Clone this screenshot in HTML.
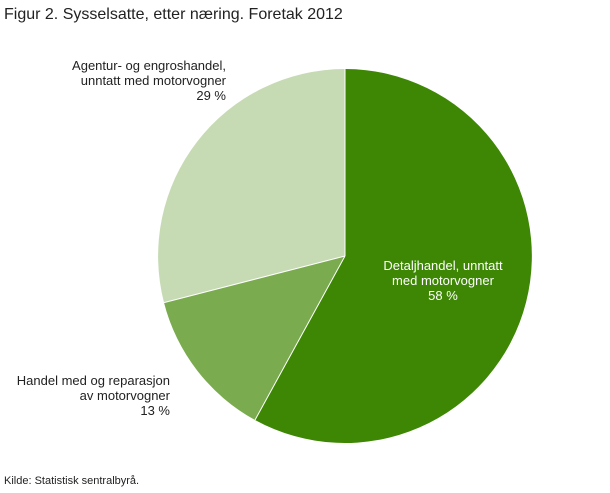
<!DOCTYPE html>
<html><head><meta charset="utf-8"><style>
body{margin:0;background:#fff;width:610px;height:488px;overflow:hidden;font-family:"Liberation Sans",sans-serif}
</style></head><body>
<svg width="610" height="488" xmlns="http://www.w3.org/2000/svg" font-family="Liberation Sans, sans-serif">
<text x="4" y="19" font-size="16" fill="#222">Figur 2. Sysselsatte, etter næring. Foretak 2012</text>
<path d="M345,256 L345,69 A187,187 0 1 1 255,420 Z" fill="#3d8704"/>
<path d="M345,256 L255,420 A187,187 0 0 1 164,302.6 Z" fill="#7aab4e"/>
<path d="M345,256 L164,302.6 A187,187 0 0 1 345,69 Z" fill="#c6dbb4"/>
<path d="M345,256 L345,69 M345,256 L255,420 M345,256 L164,302.6" stroke="#fff" stroke-width="1"/>
<g font-size="13" fill="#fff" text-anchor="middle">
<text x="443" y="270">Detaljhandel, unntatt</text>
<text x="443" y="285">med motorvogner</text>
<text x="443" y="300">58 %</text>
</g>
<g font-size="13" fill="#222" text-anchor="end">
<text x="226" y="70">Agentur- og engroshandel,</text>
<text x="226" y="85">unntatt med motorvogner</text>
<text x="226" y="100">29 %</text>
<text x="170" y="385">Handel med og reparasjon</text>
<text x="170" y="400">av motorvogner</text>
<text x="170" y="415">13 %</text>
</g>
<text x="4" y="484" font-size="11" fill="#222">Kilde: Statistisk sentralbyrå.</text>
</svg>
</body></html>
